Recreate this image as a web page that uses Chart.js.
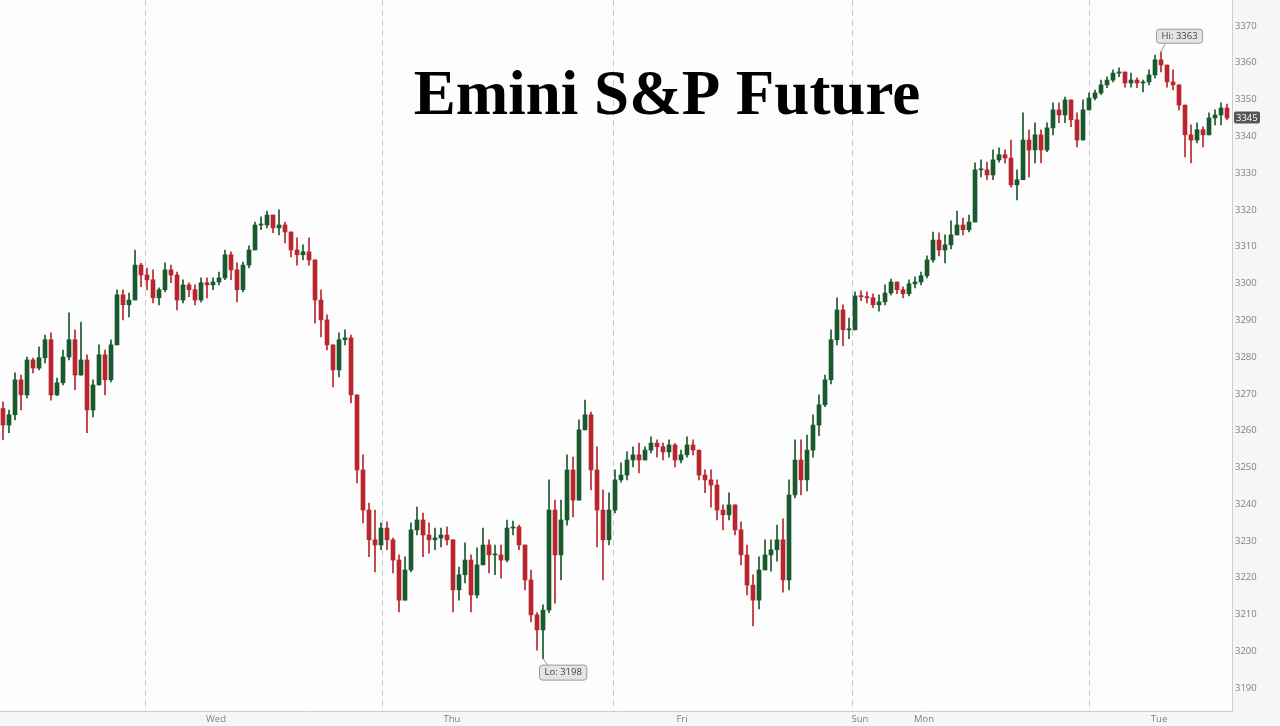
<!DOCTYPE html>
<html>
<head>
<meta charset="utf-8">
<title>Emini S&amp;P Future</title>
<script src="https://cdn.jsdelivr.net/npm/chart.js@4.4.1/dist/chart.umd.min.js"></script>
<style>
html, body { margin: 0; padding: 0; background: #f6f6f6; }
#futChart { display: block; }
</style>
</head>
<body>
<canvas id="futChart" width="1280" height="726"></canvas>
<script>
// candle data (one candle ~ 6px of the original)
var firstOpen = 3266.0;

var highs = [
  3267.8, 3265.6, 3275.7, 3275.1, 3280.0, 3279.7, 3282.8, 3286.0, 3286.6, 3274.3,
  3281.9, 3292.0, 3287.4, 3289.5, 3280.6, 3273.8, 3283.3, 3281.9, 3284.7, 3298.3,
  3298.3, 3297.4, 3309.1, 3305.5, 3304.2, 3303.7, 3298.8, 3305.6, 3305.0, 3303.1,
  3301.0, 3300.2, 3299.6, 3301.5, 3301.5, 3301.5, 3303.1, 3309.1, 3308.6, 3305.6,
  3305.8, 3310.2, 3316.7, 3318.1, 3319.7, 3318.6, 3320.0, 3316.7, 3314.0, 3312.4,
  3310.5, 3312.4, 3306.4, 3298.3, 3291.5, 3283.3, 3286.6, 3287.4, 3286.0, 3269.7,
  3253.4, 3240.3, 3238.4, 3234.9, 3235.2, 3230.8, 3226.2, 3225.7, 3234.9, 3239.2,
  3237.6, 3234.9, 3233.5, 3233.5, 3233.8, 3230.3, 3222.9, 3229.5, 3226.2, 3228.1,
  3233.5, 3230.3, 3228.9, 3228.9, 3235.7, 3235.4, 3234.3, 3228.9, 3222.1, 3210.5,
  3212.6, 3246.6, 3241.1, 3241.1, 3253.4, 3252.8, 3262.9, 3268.3, 3265.0, 3255.6,
  3243.9, 3243.1, 3249.3, 3251.2, 3254.2, 3255.6, 3256.6, 3255.6, 3258.3, 3257.5,
  3256.6, 3257.5, 3256.5, 3254.7, 3258.3, 3257.5, 3254.7, 3249.3, 3249.3, 3246.6,
  3239.8, 3243.1, 3239.8, 3235.2, 3228.9, 3220.8, 3225.7, 3230.3, 3230.3, 3234.3,
  3236.0, 3246.6, 3257.5, 3257.5, 3258.8, 3264.3, 3269.7, 3275.1, 3287.4, 3296.1,
  3294.2, 3290.6, 3297.7, 3298.0, 3297.7, 3297.2, 3296.9, 3299.6, 3301.2, 3300.4,
  3299.1, 3301.0, 3301.8, 3303.1, 3307.5, 3314.0, 3313.8, 3313.2, 3317.0, 3319.7,
  3317.8, 3318.6, 3332.8, 3333.6, 3333.0, 3336.3, 3336.9, 3336.3, 3339.0, 3330.9,
  3346.4, 3341.8, 3343.7, 3341.8, 3343.7, 3349.1, 3349.1, 3350.7, 3349.9, 3346.4,
  3349.9, 3351.8, 3352.6, 3355.3, 3356.2, 3358.1, 3358.6, 3357.5, 3357.2, 3355.9,
  3355.3, 3358.1, 3362.1, 3363.0, 3359.4, 3358.1, 3354.0, 3348.5, 3343.1, 3343.7,
  3342.6, 3346.4, 3347.2, 3349.1, 3348.8
];

var lows = [
  3257.5, 3259.4, 3262.9, 3265.6, 3268.9, 3275.7, 3276.5, 3278.4, 3268.3, 3269.5,
  3272.4, 3279.2, 3271.1, 3275.1, 3259.4, 3263.7, 3272.4, 3269.7, 3273.2, 3283.3,
  3290.1, 3290.9, 3295.5, 3299.1, 3298.3, 3294.7, 3294.2, 3297.7, 3300.2, 3292.8,
  3294.7, 3296.4, 3294.2, 3295.0, 3296.1, 3298.3, 3299.6, 3301.0, 3301.0, 3295.0,
  3297.7, 3304.2, 3309.1, 3314.6, 3315.1, 3313.8, 3313.2, 3311.0, 3307.2, 3305.0,
  3306.4, 3305.0, 3289.3, 3285.5, 3281.9, 3271.9, 3274.6, 3283.3, 3267.5, 3245.8,
  3234.9, 3225.7, 3221.6, 3227.6, 3227.6, 3221.3, 3210.7, 3213.9, 3221.6, 3231.6,
  3225.7, 3226.7, 3227.6, 3228.4, 3228.9, 3210.7, 3213.9, 3218.6, 3210.7, 3214.5,
  3223.5, 3221.3, 3220.8, 3219.9, 3224.3, 3231.6, 3227.6, 3216.7, 3208.0, 3200.3,
  3198.0, 3210.5, 3213.1, 3219.4, 3234.3, 3236.5, 3241.1, 3260.2, 3243.9, 3228.4,
  3219.4, 3228.9, 3237.6, 3246.0, 3246.6, 3250.1, 3248.5, 3252.0, 3253.9, 3252.8,
  3252.0, 3252.8, 3250.1, 3251.2, 3252.8, 3253.4, 3246.6, 3243.1, 3239.2, 3235.7,
  3233.0, 3235.7, 3231.6, 3223.5, 3215.3, 3206.9, 3211.5, 3222.1, 3221.8, 3224.5,
  3216.1, 3216.7, 3241.7, 3242.5, 3243.6, 3252.8, 3258.6, 3266.5, 3272.7, 3283.3,
  3283.0, 3285.0, 3287.4, 3295.3, 3294.7, 3293.4, 3292.5, 3294.2, 3296.9, 3297.2,
  3296.1, 3296.6, 3298.8, 3299.6, 3301.5, 3305.8, 3307.5, 3305.6, 3309.4, 3313.2,
  3313.2, 3314.0, 3316.7, 3329.0, 3328.2, 3328.2, 3333.0, 3332.8, 3326.2, 3322.7,
  3328.2, 3329.0, 3332.8, 3332.8, 3335.8, 3340.4, 3343.7, 3343.7, 3342.6, 3337.1,
  3339.0, 3347.2, 3349.9, 3351.3, 3353.2, 3354.8, 3356.2, 3353.4, 3353.4, 3353.2,
  3352.1, 3354.0, 3355.9, 3357.5, 3353.4, 3352.6, 3347.2, 3334.4, 3332.8, 3338.2,
  3337.1, 3340.4, 3343.1, 3343.1, 3344.5
];

var closes = [
  3261.5, 3264.3, 3273.8, 3269.7, 3279.2, 3277.0, 3279.8, 3284.7, 3269.7, 3273.0,
  3280.0, 3284.7, 3275.1, 3279.2, 3265.6, 3272.4, 3280.6, 3273.8, 3283.3, 3296.9,
  3294.2, 3295.5, 3305.0, 3302.3, 3301.0, 3296.1, 3298.3, 3303.7, 3302.3, 3295.5,
  3299.6, 3298.3, 3295.5, 3300.2, 3299.6, 3300.4, 3301.5, 3307.8, 3303.7, 3298.3,
  3305.0, 3309.1, 3315.9, 3315.9, 3318.6, 3315.1, 3315.9, 3314.0, 3309.1, 3307.8,
  3308.6, 3306.4, 3295.5, 3290.1, 3283.3, 3276.5, 3284.7, 3285.2, 3269.7, 3249.3,
  3238.4, 3230.3, 3228.9, 3233.5, 3230.3, 3224.8, 3213.9, 3222.1, 3233.0, 3235.7,
  3231.6, 3230.3, 3230.8, 3231.6, 3230.3, 3216.7, 3220.8, 3224.8, 3215.3, 3223.5,
  3228.9, 3226.2, 3226.2, 3224.8, 3233.5, 3233.8, 3228.9, 3219.4, 3209.9, 3205.8,
  3211.2, 3238.4, 3226.2, 3235.7, 3249.3, 3241.1, 3260.2, 3264.3, 3249.3, 3238.4,
  3230.3, 3238.4, 3246.6, 3247.9, 3252.0, 3253.4, 3252.0, 3254.7, 3256.6, 3255.6,
  3254.2, 3256.1, 3252.0, 3253.4, 3256.1, 3254.7, 3247.9, 3246.6, 3245.2, 3238.4,
  3237.1, 3239.8, 3233.0, 3226.2, 3218.0, 3213.9, 3222.1, 3226.2, 3227.6, 3230.3,
  3219.4, 3242.5, 3252.0, 3246.6, 3254.7, 3261.5, 3267.0, 3273.8, 3284.7, 3292.8,
  3287.4, 3287.4, 3296.6, 3296.4, 3296.1, 3294.2, 3295.0, 3297.4, 3300.4, 3298.3,
  3297.2, 3299.9, 3300.4, 3302.1, 3306.4, 3311.8, 3309.1, 3310.5, 3313.2, 3315.9,
  3314.6, 3316.7, 3330.9, 3330.9, 3329.5, 3333.6, 3335.0, 3334.1, 3326.8, 3328.2,
  3339.0, 3336.3, 3340.4, 3336.3, 3342.3, 3347.2, 3345.8, 3349.9, 3344.5, 3339.0,
  3347.2, 3350.4, 3351.8, 3354.0, 3355.3, 3357.2, 3357.5, 3354.5, 3355.3, 3354.5,
  3354.8, 3356.7, 3360.8, 3359.4, 3354.8, 3354.0, 3348.5, 3340.4, 3339.0, 3341.8,
  3340.4, 3345.0, 3345.8, 3347.7, 3345.0
];

// x axis: session breaks (dashed lines) and day labels, in candle units
var dayBreaks = [23.67, 63.17, 101.83, 141.5, 181];
var dayNames = ["Wed", "Thu", "Fri", "Sun", "Mon", "Tue"];
var dayLabelPos = [35.5, 74.83, 113.17, 142.83, 153.5, 192.67];

var yMin = 3183.76, yMax = 3377.07;

// open of each candle is the previous close
var opens = [firstOpen].concat(closes.slice(0, closes.length - 1));

var upColor = "#185a2d";
var downColor = "#b9262e";
var candleColors = closes.map(function (c, i) { return c >= opens[i] ? upColor : downColor; });

var wickData = closes.map(function (c, i) { return { x: i, y: [lows[i], highs[i]] }; });
var bodyData = closes.map(function (c, i) { return { x: i, y: [opens[i], c] }; });

var axisFont = { family: "'Open Sans', sans-serif", size: 9.5 };

var bgPlugin = {
  id: "bg",
  beforeDraw: function (chart) {
    var c = chart.ctx, a = chart.chartArea;
    c.save();
    c.fillStyle = "#f6f6f6";
    c.fillRect(0, 0, chart.width, chart.height);
    c.fillStyle = "#fdfdfd";
    c.fillRect(a.left, a.top, a.right - a.left, a.bottom - a.top);
    c.restore();
  }
};

var titlePlugin = {
  id: "bigTitle",
  beforeDatasetsDraw: function (chart) {
    var c = chart.ctx;
    c.save();
    c.font = "bold 63px 'Liberation Serif', 'DejaVu Serif', serif";
    c.fillStyle = "#000";
    c.textAlign = "center";
    c.textBaseline = "alphabetic";
    c.fillText("Emini S&P Future", 667, 114);
    c.restore();
  }
};

function roundBox(c, x, y, w, h, r) {
  c.beginPath();
  c.moveTo(x + r, y);
  c.lineTo(x + w - r, y);
  c.quadraticCurveTo(x + w, y, x + w, y + r);
  c.lineTo(x + w, y + h - r);
  c.quadraticCurveTo(x + w, y + h, x + w - r, y + h);
  c.lineTo(x + r, y + h);
  c.quadraticCurveTo(x, y + h, x, y + h - r);
  c.lineTo(x, y + r);
  c.quadraticCurveTo(x, y, x + r, y);
  c.closePath();
}

var markerPlugin = {
  id: "markers",
  afterDraw: function (chart) {
    var c = chart.ctx, xs = chart.scales.x, ys = chart.scales.y;
    var hiIdx = highs.indexOf(Math.max.apply(null, highs));
    var loIdx = lows.indexOf(Math.min.apply(null, lows));
    c.save();
    c.font = "9.5px 'Open Sans', sans-serif";
    c.textBaseline = "middle";
    c.textAlign = "center";

    // Hi label
    var hx = xs.getPixelForValue(hiIdx), hy = ys.getPixelForValue(highs[hiIdx]);
    var hText = "Hi: " + Math.round(highs[hiIdx]);
    var hw = c.measureText(hText).width + 10;
    c.strokeStyle = "#9a9a9a";
    c.lineWidth = 1;
    c.beginPath(); c.moveTo(hx, hy); c.lineTo(hx + 4, hy - 8); c.stroke();
    roundBox(c, hx - 4.5, hy - 22.5, hw, 14, 3);
    c.fillStyle = "#e4e4e4"; c.fill(); c.stroke();
    c.fillStyle = "#444";
    c.fillText(hText, hx - 4.5 + hw / 2, hy - 15.5);

    // Lo label
    var lx = xs.getPixelForValue(loIdx), ly = ys.getPixelForValue(lows[loIdx]);
    var lText = "Lo: " + Math.round(lows[loIdx]);
    var lw = c.measureText(lText).width + 10;
    c.beginPath(); c.moveTo(lx, ly); c.lineTo(lx + 5, ly + 7); c.stroke();
    roundBox(c, lx - 3.5, ly + 6.5, lw, 15, 3);
    c.fillStyle = "#e4e4e4"; c.fill(); c.stroke();
    c.fillStyle = "#444";
    c.fillText(lText, lx - 3.5 + lw / 2, ly + 14);

    // last price tag
    var last = closes[closes.length - 1];
    var py = ys.getPixelForValue(last);
    var a = chart.chartArea;
    roundBox(c, a.right + 2, py - 6.5, 26, 12, 2);
    c.fillStyle = "#555";
    c.fill();
    c.fillStyle = "#fff";
    c.textAlign = "left";
    c.fillText(String(Math.round(last)), a.right + 4, py);
    c.restore();
  }
};

var ctx = document.getElementById("futChart");
var futChart = new Chart(ctx, {
  type: "bar",
  data: {
    datasets: [
      {
        label: "wick",
        data: wickData,
        backgroundColor: candleColors,
        barThickness: 1,
        grouped: false,
        order: 2
      },
      {
        label: "body",
        data: bodyData,
        backgroundColor: candleColors,
        barThickness: 4,
        minBarLength: 1,
        grouped: false,
        order: 1
      }
    ]
  },
  options: {
    responsive: false,
    animation: false,
    devicePixelRatio: 1,
    layout: { padding: 0 },
    plugins: {
      legend: { display: false },
      tooltip: { enabled: false }
    },
    scales: {
      x: {
        type: "linear",
        min: -0.5,
        max: 204.83,
        offset: false,
        afterBuildTicks: function (scale) {
          scale.ticks = dayBreaks.concat(dayLabelPos).sort(function (a, b) { return a - b; })
            .map(function (v) { return { value: v }; });
        },
        afterFit: function (scale) {
          scale.height = 15;
          scale.paddingLeft = 0;
          scale.paddingRight = 0;
        },
        ticks: {
          autoSkip: false,
          maxRotation: 0,
          padding: 3,
          color: "#808080",
          font: axisFont,
          callback: function (value) {
            var k = dayLabelPos.indexOf(value);
            return k >= 0 ? dayNames[k] : "";
          }
        },
        grid: {
          offset: false,
          drawTicks: false,
          lineWidth: 1,
          color: function (context) {
            if (context.tick && dayBreaks.indexOf(context.tick.value) >= 0) return "#c9c9c9";
            return "rgba(0,0,0,0)";
          }
        },
        border: { display: true, color: "#cccccc", dash: [6, 4] }
      },
      y: {
        position: "right",
        min: yMin,
        max: yMax,
        afterFit: function (scale) {
          scale.width = 48;
          scale.paddingTop = 0;
          scale.paddingBottom = 0;
        },
        ticks: {
          stepSize: 10,
          includeBounds: false,
          padding: 3,
          color: "#808080",
          font: axisFont,
          callback: function (value) { return String(value); }
        },
        grid: { display: false, drawTicks: false },
        border: { display: true, color: "#cccccc" }
      }
    }
  },
  plugins: [bgPlugin, titlePlugin, markerPlugin]
});
</script>
</body>
</html>
